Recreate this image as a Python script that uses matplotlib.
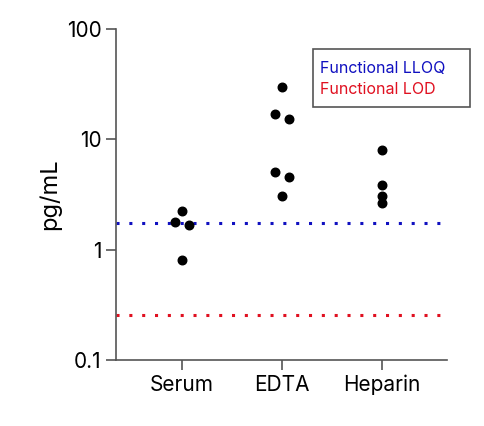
import numpy as np
import matplotlib.pyplot as plt
from matplotlib.patches import Rectangle

plt.rcParams['font.family'] = ['Inter', 'DejaVu Sans']

groups = ['Serum', 'EDTA', 'Heparin']
serum = [2.25, 1.77, 1.67, 0.8]
edta = [30, 16.9, 15.4, 5.1, 4.6, 3.06]
heparin = [8.0, 3.87, 3.06, 2.66]
serum_dx = [0, -0.067, 0.067, 0]
edta_dx = [0, -0.067, 0.067, -0.067, 0.067, 0]
heparin_dx = [0, 0, 0, 0]
lloq = 1.74
lod = 0.256

fig = plt.figure(figsize=(4.85, 4.26), dpi=100)
ax = fig.add_axes([0.239, 0.155, 0.683, 0.777])

for i, (vals, dx) in enumerate([(serum, serum_dx), (edta, edta_dx), (heparin, heparin_dx)]):
    ax.scatter(np.array(dx) + i, vals, s=38, color='black', zorder=3)

ax.axhline(lloq, color='#1010c0', linestyle=(0, (1, 3.2)), linewidth=2.2)
ax.axhline(lod, color='#e01020', linestyle=(0, (1, 3.2)), linewidth=2.2)

ax.set_yscale('log')
ax.set_ylim(0.1, 100)
ax.set_xlim(-0.66, 2.65)
ax.set_yticks([0.1, 1, 10, 100])
ax.set_yticklabels(['0.1', '1', '10', '100'])
ax.minorticks_off()
ax.set_xticks(range(3))
ax.set_xticklabels(groups)
ax.tick_params(labelsize=15, length=7, color='#555555', width=1.2)
ax.set_ylabel('pg/mL', fontsize=17)
for s in ['top', 'right']:
    ax.spines[s].set_visible(False)
for s in ['left', 'bottom']:
    ax.spines[s].set_color('#555555')
    ax.spines[s].set_linewidth(1.2)

fig.patches.append(Rectangle((0.645, 0.749), 0.324, 0.136, transform=fig.transFigure,
                             facecolor='white', edgecolor='#555555', linewidth=1.2))
fig.text(0.66, 0.84, 'Functional LLOQ', color='#1010c0', fontsize=11.5, va='center')
fig.text(0.66, 0.789, 'Functional LOD', color='#e01020', fontsize=11.5, va='center')

fig.savefig('out.png', dpi=100)
